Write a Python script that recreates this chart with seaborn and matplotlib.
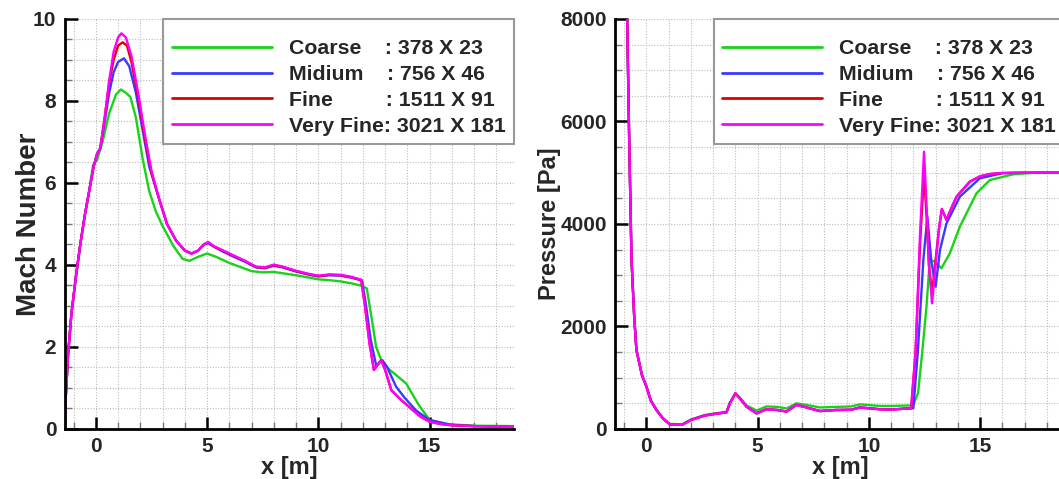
import numpy as np
import pandas as pd
import matplotlib
matplotlib.use("Agg")
import matplotlib.pyplot as plt
from matplotlib.ticker import MultipleLocator
import seaborn as sns

# ---------------- data ----------------
series_names = ["Coarse", "Midium", "Fine", "Very Fine"]
legend_labels = ["Coarse    : 378 X 23",
                 "Midium    : 756 X 46",
                 "Fine         : 1511 X 91",
                 "Very Fine: 3021 X 181"]
series_colors = ["#19d219", "#3a3aff", "#e00000", "#ff00ff"]

# Mach number
mach_x_coarse = [-1.4, -1.35, -1.25, -1.1, -0.9, -0.7, -0.5, -0.3, -0.12, 0.05, 0.3, 0.6, 0.9, 1.12, 1.35, 1.55,
                 1.8, 2.1, 2.4, 2.7, 3.0, 3.5, 3.9, 4.2, 4.6, 5.0, 5.4, 6.0, 6.5, 7.0, 7.5, 8.0, 9.0, 10.0, 10.5,
                 11.0, 11.5, 11.9, 12.18, 12.4, 12.6, 12.83, 13.2, 13.95, 14.5, 15.0, 15.75, 17.0, 18.8]
mach_y_coarse = [0.05, 0.8, 1.8, 2.8, 3.7, 4.5, 5.2, 5.8, 6.45, 6.55, 7.0, 7.7, 8.15, 8.28, 8.2, 8.1,
                 7.6, 6.6, 5.8, 5.3, 4.95, 4.45, 4.15, 4.1, 4.2, 4.28, 4.2, 4.05, 3.95, 3.85, 3.82, 3.83, 3.75, 3.65, 3.63,
                 3.6, 3.55, 3.5, 3.43, 2.7, 2.0, 1.68, 1.45, 1.11, 0.6, 0.22, 0.12, 0.08, 0.07]

mach_x_medium = [-1.4, -1.35, -1.25, -1.1, -0.9, -0.7, -0.5, -0.3, -0.1, 0.05, 0.2, 0.4, 0.6, 0.8, 1.0, 1.26, 1.5,
                 1.8, 2.1, 2.4, 2.85, 3.2, 3.6, 4.0, 4.3, 4.6, 4.85, 5.05, 5.3, 5.7, 6.2, 6.7, 7.2, 7.6, 8.0, 8.4,
                 9.0, 9.6, 10.0, 10.5, 11.0, 11.5, 11.97, 12.15, 12.35, 12.6, 12.88, 13.1, 13.5, 13.9, 14.4, 15.0,
                 16.0, 17.0, 18.8]
mach_y_medium = [0.05, 0.8, 1.8, 2.8, 3.7, 4.5, 5.2, 5.8, 6.4, 6.7, 6.85, 7.5, 8.2, 8.7, 8.95, 9.04, 8.85,
                 8.2, 7.3, 6.4, 5.6, 5.0, 4.6, 4.35, 4.28, 4.35, 4.5, 4.53, 4.45, 4.33, 4.2, 4.08, 3.94, 3.92, 3.98, 3.94,
                 3.84, 3.76, 3.72, 3.75, 3.74, 3.69, 3.62, 3.0, 2.2, 1.55, 1.68, 1.5, 1.03, 0.75, 0.45, 0.22,
                 0.1, 0.07, 0.05]

mach_x_fine = [-1.4, -1.35, -1.25, -1.1, -0.9, -0.7, -0.5, -0.3, -0.1, 0.05, 0.2, 0.4, 0.6, 0.8, 1.0, 1.2, 1.4,
               1.6, 1.9, 2.2, 2.5, 2.85, 3.2, 3.6, 4.0, 4.3, 4.6, 4.85, 5.05, 5.3, 5.7, 6.2, 6.7, 7.2, 7.6, 8.0, 8.4,
               9.0, 9.6, 10.0, 10.5, 11.0, 11.5, 11.93, 12.1, 12.3, 12.5, 12.65, 12.83, 13.0, 13.28, 13.7, 14.25,
               14.6, 15.0, 15.5, 16.0, 17.0, 18.8]
mach_y_fine = [0.05, 0.8, 1.8, 2.8, 3.7, 4.5, 5.2, 5.8, 6.4, 6.7, 6.85, 7.6, 8.45, 9.0, 9.35, 9.43, 9.35,
               8.95, 8.1, 7.1, 6.25, 5.6, 5.0, 4.6, 4.35, 4.28, 4.35, 4.5, 4.55, 4.45, 4.35, 4.22, 4.1, 3.95, 3.93,
               4.0, 3.95, 3.85, 3.77, 3.73, 3.76, 3.75, 3.7, 3.63, 3.0, 2.1, 1.44, 1.55, 1.68, 1.45, 0.95, 0.72,
               0.46, 0.3, 0.18, 0.12, 0.09, 0.07, 0.05]

mach_x_vfine = [-1.4, -1.35, -1.25, -1.1, -0.9, -0.7, -0.5, -0.3, -0.1, 0.05, 0.2, 0.4, 0.6, 0.8, 1.0, 1.15, 1.35,
                1.6, 1.9, 2.2, 2.5, 2.85, 3.2, 3.6, 4.0, 4.3, 4.6, 4.85, 5.05, 5.3, 5.7, 6.2, 6.7, 7.2, 7.6, 8.0, 8.4,
                9.0, 9.6, 10.0, 10.5, 11.0, 11.5, 11.93, 12.1, 12.3, 12.5, 12.65, 12.83, 13.0, 13.28, 13.7, 14.25,
                14.6, 15.0, 15.5, 16.0, 17.0, 18.8]
mach_y_vfine = [0.05, 0.8, 1.8, 2.8, 3.7, 4.5, 5.2, 5.8, 6.4, 6.7, 6.85, 7.6, 8.5, 9.2, 9.55, 9.65, 9.55,
                9.1, 8.2, 7.2, 6.3, 5.6, 5.0, 4.6, 4.35, 4.28, 4.35, 4.5, 4.56, 4.46, 4.36, 4.23, 4.1, 3.96, 3.94,
                4.01, 3.96, 3.86, 3.78, 3.74, 3.77, 3.76, 3.71, 3.64, 3.0, 2.1, 1.44, 1.55, 1.68, 1.45, 0.95, 0.72,
                0.46, 0.3, 0.18, 0.12, 0.09, 0.07, 0.05]

# Pressure [Pa]
p_x_common = [-0.87, -0.78, -0.67, -0.55, -0.45, -0.2, 0.0, 0.2, 0.45, 0.75, 1.05, 1.6, 2.0, 2.6, 3.0, 3.6,
              3.75, 4.0, 4.2, 4.5, 4.95, 5.4, 5.9, 6.3, 6.74, 7.2, 7.8, 8.5, 9.2, 9.6, 10.5, 11.0, 11.9]
p_y_common = [8100, 5770, 3300, 2200, 1540, 1050, 826, 550, 370, 200, 90, 80, 175, 260, 290, 325,
              500, 695, 600, 435, 305, 385, 370, 340, 470, 420, 350, 370, 375, 420, 385, 380, 404]
p_y_coarse_base = [8100, 5770, 3300, 2200, 1540, 1050, 830, 560, 380, 210, 100, 90, 185, 270, 300, 335,
                   510, 690, 610, 460, 360, 440, 430, 400, 500, 470, 420, 430, 440, 480, 450, 450, 460]

p_x_coarse_tail = [11.99, 12.21, 12.4, 12.59, 12.74, 12.96, 13.26, 13.64, 14.09, 14.84, 15.44, 16.5, 17.5, 18.8]
p_y_coarse_tail = [468, 696, 1500, 2387, 3298, 3265, 3135, 3428, 3948, 4600, 4858, 4970, 5000, 5000]

p_x_medium_tail = [12.0, 12.2, 12.45, 12.63, 12.8, 13.0, 13.2, 13.49, 14.09, 14.99, 16.0, 17.0, 18.8]
p_y_medium_tail = [404, 1500, 3300, 4143, 3300, 2777, 3500, 4013, 4533, 4891, 4990, 5000, 5000]

p_x_fine_tail = [12.1, 12.3, 12.48, 12.6, 12.7, 12.84, 13.0, 13.15, 13.28, 13.49, 13.7, 13.94, 14.54, 15.0,
                 15.44, 16.0, 17.0, 18.8]
p_y_fine_tail = [1500, 3600, 4990, 4100, 3200, 2648, 3300, 3900, 4293, 4078, 4300, 4533, 4826, 4930,
                 4975, 4995, 5000, 5000]

p_x_vfine_tail = [12.1, 12.3, 12.48, 12.6, 12.7, 12.84, 13.0, 13.15, 13.28, 13.49, 13.7, 13.94, 14.54, 15.0,
                  15.44, 16.0, 17.0, 18.8]
p_y_vfine_tail = [1500, 3800, 5410, 4300, 3200, 2452, 3200, 3900, 4293, 4078, 4300, 4533, 4826, 4930,
                  4975, 4995, 5000, 5000]

# ---------------- assemble ----------------
mach_frames = []
for name, xs, ys in zip(series_names,
                        [mach_x_coarse, mach_x_medium, mach_x_fine, mach_x_vfine],
                        [mach_y_coarse, mach_y_medium, mach_y_fine, mach_y_vfine]):
    mach_frames.append(pd.DataFrame({"x": xs, "y": ys, "grid": name}))
mach_df = pd.concat(mach_frames, ignore_index=True)

p_frames = []
p_frames.append(pd.DataFrame({"x": p_x_common + p_x_coarse_tail, "y": p_y_coarse_base + p_y_coarse_tail, "grid": "Coarse"}))
p_frames.append(pd.DataFrame({"x": p_x_common + p_x_medium_tail, "y": p_y_common + p_y_medium_tail, "grid": "Midium"}))
p_frames.append(pd.DataFrame({"x": p_x_common + p_x_fine_tail, "y": p_y_common + p_y_fine_tail, "grid": "Fine"}))
p_frames.append(pd.DataFrame({"x": p_x_common + p_x_vfine_tail, "y": p_y_common + p_y_vfine_tail, "grid": "Very Fine"}))
p_df = pd.concat(p_frames, ignore_index=True)

# ---------------- plot ----------------
sns.set_theme(style="white")
plt.rcParams["font.family"] = ["Liberation Sans", "DejaVu Sans"]
plt.rcParams["font.weight"] = "bold"

fig = plt.figure(figsize=(10.59, 4.79), dpi=100)
ax1 = fig.add_axes([0.0611, 0.1044, 0.4243, 0.856])
ax2 = fig.add_axes([0.5810, 0.1044, 0.4243, 0.856])

palette = dict(zip(series_names, series_colors))

def style_axes(ax, ylim, ymaj, ymin_, ylabel, ylab_x, ylab_size):
    ax.set_xlim(-1.4, 18.8)
    ax.set_ylim(*ylim)
    ax.xaxis.set_major_locator(MultipleLocator(5))
    ax.xaxis.set_minor_locator(MultipleLocator(1))
    ax.yaxis.set_major_locator(MultipleLocator(ymaj))
    ax.yaxis.set_minor_locator(MultipleLocator(ymin_))
    ax.grid(which="both", linestyle=(0, (1, 1.5)), color="#bcbcbc", linewidth=0.8)
    ax.set_axisbelow(True)
    for s in ["top", "right"]:
        ax.spines[s].set_visible(False)
    for s in ["left", "bottom"]:
        ax.spines[s].set_linewidth(2.0)
        ax.spines[s].set_color("black")
    ax.tick_params(which="major", direction="in", length=9, width=1.8, color="black",
                   labelsize=15, pad=6, left=True, bottom=True)
    ax.tick_params(which="minor", direction="in", length=5, width=1.0, color="#777777",
                   left=True, bottom=True)
    for lab in ax.get_xticklabels() + ax.get_yticklabels():
        lab.set_fontweight("bold")
    ax.set_xlabel("x [m]", fontsize=17, fontweight="bold", labelpad=0)
    ax.set_ylabel(ylabel, fontsize=ylab_size, fontweight="bold")
    ax.yaxis.set_label_coords(ylab_x, 0.5)

def draw(ax, df):
    sns.lineplot(data=df, x="x", y="y", hue="grid", palette=palette, hue_order=series_names,
                 sort=False, estimator=None, linewidth=1.7, ax=ax, legend=False)
    handles = [plt.Line2D([], [], color=c, linewidth=2.0) for c in series_colors]
    leg = ax.legend(handles, legend_labels, loc="upper right", bbox_to_anchor=(1.0, 1.0),
                    borderaxespad=0, frameon=True, fancybox=False, framealpha=1,
                    edgecolor="#999999", prop={"size": 15.3, "weight": "bold"},
                    handlelength=4.7, handletextpad=0.8, labelspacing=0.32, borderpad=0.4,
                    title=" ", title_fontsize=4)
    leg.get_frame().set_linewidth(1.5)

draw(ax1, mach_df)
style_axes(ax1, (0, 10), 2, 0.5, "Mach Number", -0.05, 20)
draw(ax2, p_df)
style_axes(ax2, (0, 8000), 2000, 500, "Pressure [Pa]", -0.121, 17)

fig.savefig("out.png", dpi=100)
